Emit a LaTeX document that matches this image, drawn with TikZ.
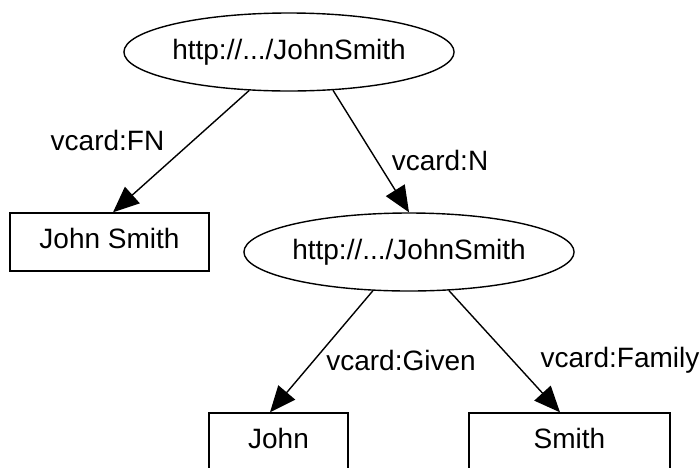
\documentclass[tikz,border=0pt]{standalone}
\usepackage{fontspec}
\setmainfont{Liberation Sans}
\usetikzlibrary{positioning,arrows.meta,shapes.geometric}

\begin{document}
\begin{tikzpicture}[x=0.5pt, y=-0.5pt,
    font=\fontsize{14}{16}\selectfont,
    res/.style={draw, ellipse, line width=0.7pt, inner sep=0pt, minimum width=139pt, minimum height=39pt},
    lit/.style={draw, rectangle, line width=0.7pt, inner sep=0pt, minimum height=29pt, text depth=4pt},
    rel/.style={-{Triangle[length=13pt, width=11pt]}, line width=0.7pt}]
\useasboundingbox (0,0) rectangle (700,467);
\clip (0,0) rectangle (700,467);

% Resources
\node[res] (top) at (289, 52) {http://.../JohnSmith};
\node[res, minimum width=140pt] (mid) at (409, 252) {http://.../JohnSmith};

% Literals
\node[lit, minimum width=99.5pt] (fn) at (109.5, 242) {John Smith};
\node[lit, minimum width=69.5pt] (john) at (278.5, 442) {John};
\node[lit, minimum width=100.5pt] (smith) at (569.5, 442) {Smith};

% Properties
\draw[rel] (top.-136) -- ([xshift=1.75pt]fn.north);
\draw[rel] (top.-41) -- (mid.north);
\draw[rel] (mid.-133) -- ([xshift=-4.25pt]john.north);
\draw[rel] (mid.-44) -- ([xshift=-4.75pt]smith.north);

% Labels
\node (lfn) at (107.5, 140) {vcard:FN};
\node (ln) at (440, 160) {vcard:N};
\node (lgiven) at (401, 360) {vcard:Given};
\node (lfamily) at (620, 360) {vcard:Family};
\end{tikzpicture}
\end{document}
